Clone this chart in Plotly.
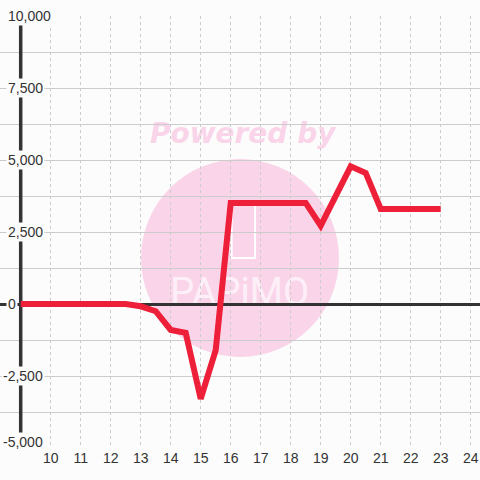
import plotly.graph_objects as go

# ---- data ----
x_vals = [9, 9.5, 10, 10.5, 11, 11.5, 12, 12.5, 13, 13.5, 14, 14.5, 15, 15.5, 16,
          16.5, 17, 17.5, 18, 18.5, 19, 19.5, 20, 20.5, 21, 21.5, 22, 22.5, 23]
y_vals = [0, 0, 0, 0, 0, 0, 0, 0, -80, -250, -900, -1000, -3290, -1600, 3510,
          3510, 3510, 3510, 3510, 3510, 2720, 3750, 4780, 4550, 3300, 3300, 3300, 3300, 3300]
x_tick_vals = list(range(10, 25))
x_tick_text = [str(v) for v in x_tick_vals]
y_grid_vals = [-5000, -3750, -2500, -1250, 0, 1250, 2500, 3750, 5000, 6250, 7500, 8750, 10000]
y_label_vals = [-5000, -2500, 0, 2500, 5000, 7500, 10000]
y_label_text = ["-5,000", "-2,500", "0", "2,500", "5,000", "7,500", "10,000"]

BG = "#fcfcfc"
GRID = "#cccccc"
TXT = "#333333"
RED = "#ee1f38"
PINK = "#fad5ea"

fig = go.Figure()
fig.add_trace(go.Scatter(x=x_vals, y=y_vals, mode="lines",
                         line=dict(color=RED, width=6), hoverinfo="skip"))

shapes = [
    dict(type="circle", xref="x", yref="y", x0=13.01, x1=19.61, y0=-1840, y1=5034,
         fillcolor=PINK, line=dict(width=0), layer="below"),
    dict(type="rect", xref="x", yref="y", x0=16.03, x1=16.81, y0=1600, y1=3440,
         line=dict(color="white", width=2), fillcolor="rgba(0,0,0,0)", layer="below"),
    dict(type="rect", xref="x", yref="y", x0=14.0, x1=18.6, y0=-100, y1=1150,
         line=dict(width=0), fillcolor="rgba(0,0,0,0)", layer="below",
         label=dict(text="PAPiMO", textposition="middle center",
                    font=dict(family="Liberation Sans Narrow, Roboto, sans-serif",
                              size=38, color="rgba(255,255,255,0.65)"))),
    dict(type="rect", xref="x", yref="y", x0=13.5, x1=19.3, y0=5500, y1=6500,
         line=dict(width=0), fillcolor="rgba(0,0,0,0)", layer="below",
         label=dict(text="<b><i>Powered by</i></b>", textposition="middle center",
                    font=dict(family="DejaVu Sans", size=28, color=PINK))),
    dict(type="line", xref="x", yref="y", x0=9, x1=9, y0=-5000, y1=10000,
         line=dict(color=TXT, width=3.5), layer="between"),
]

annotations = []
for v, t in zip(y_label_vals, y_label_text):
    annotations.append(dict(
        xref="x", yref="y", x=8.5, y=v, text=t, showarrow=False,
        xanchor="left", yanchor="middle",
        xshift=-4.7 if t.startswith("-") else 0,
        yshift=6 if v == -5000 else 0,
        bgcolor=BG, borderpad=1,
        font=dict(family="Liberation Sans, Arial, sans-serif", size=14, color=TXT)))

fig.update_layout(
    width=480, height=480,
    margin=dict(l=0, r=0, t=16, b=32),
    paper_bgcolor=BG, plot_bgcolor=BG,
    showlegend=False,
    shapes=shapes,
    annotations=annotations,
    xaxis=dict(range=[8.31, 24.31], tickmode="array", tickvals=x_tick_vals, ticktext=x_tick_text,
               showgrid=True, gridcolor=GRID, griddash="dot", gridwidth=1,
               zeroline=False, showline=False, ticks="",
               tickfont=dict(family="Liberation Sans, Arial, sans-serif", size=14, color=TXT)),
    yaxis=dict(range=[-5000, 10000], tickmode="array", tickvals=y_grid_vals,
               showticklabels=False, showgrid=True, gridcolor=GRID, gridwidth=1,
               zeroline=True, zerolinecolor=TXT, zerolinewidth=3, showline=False, ticks=""),
)

fig.write_html("out.html", config={"displayModeBar": False},
               post_script="document.body.style.margin='0';document.body.style.background='#fcfcfc';")
